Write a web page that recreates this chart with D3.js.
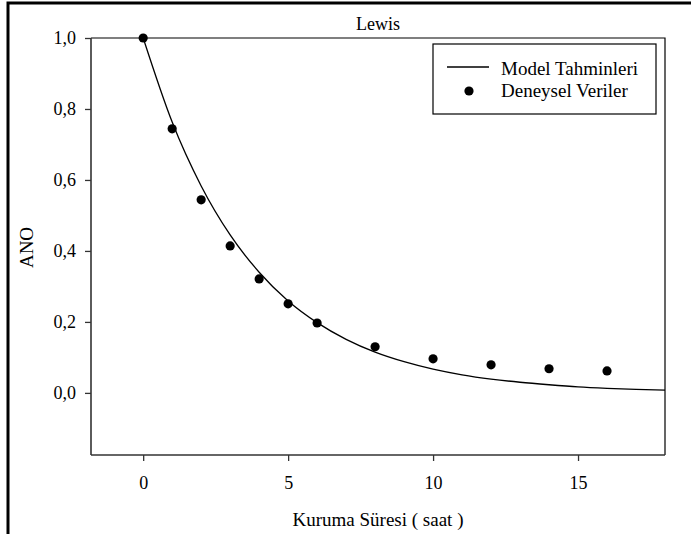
<!DOCTYPE html>
<html>
<head>
<meta charset="utf-8">
<script src="https://cdn.jsdelivr.net/npm/d3@7"></script>
<style>
  body { margin: 0; background: #fff; }
  text { font-family: "Liberation Serif", "Times New Roman", serif; fill: #000; }
</style>
</head>
<body>
<div id="chart"></div>
<script>
// measured points (Deneysel Veriler)
let timeObs = [0, 1, 2, 3, 4, 5, 6, 8, 10, 12, 14, 16];
let anoObs = [1.0, 0.744, 0.544, 0.414, 0.321, 0.251, 0.197, 0.130, 0.096, 0.079, 0.068, 0.062];

// model curve (Model Tahminleri)
let timeModel = [0, 1, 2, 3, 4, 5, 6, 7, 8, 9, 10, 11, 12, 13, 14, 15, 16, 17, 18];
let anoModel = [1.0, 0.763, 0.583, 0.445, 0.340, 0.259, 0.198, 0.151, 0.115, 0.088, 0.067, 0.051, 0.039, 0.030, 0.023, 0.017, 0.013, 0.010, 0.008];

let xTicks = [0, 5, 10, 15];
let yTicks = [0, 0.2, 0.4, 0.6, 0.8, 1.0];

let W = 691, H = 534;
let pLeft = 91, pRight = 665, pTop = 38, pBottom = 455;

let svg = d3.select("#chart")
    .append("svg")
    .attr("width", W)
    .attr("height", H);

// outer frame (cut off at right/bottom)
svg.append("rect")
    .attr("x", 8)
    .attr("y", 3)
    .attr("width", 720)
    .attr("height", 560)
    .attr("fill", "none")
    .style("stroke", "black")
    .style("stroke-width", 3);

let x = d3.scaleLinear().domain([-1.8, 18]).range([pLeft, pRight]);
let y = d3.scaleLinear().domain([-0.175, 1.0]).range([pBottom, pTop]);

let comma = d => d3.format(".1f")(d).replace(".", ",");

// top and right border of plot
svg.append("path")
    .attr("d", `M${pLeft},${pTop}H${pRight}V${pBottom}`)
    .attr("fill", "none")
    .style("stroke", "black")
    .style("stroke-width", 1.2);

let yAxis = svg.append("g")
    .attr("transform", `translate(${pLeft},0)`)
    .call(d3.axisLeft(y).tickValues(yTicks).tickFormat(comma).tickSize(6).tickPadding(9));

let xAxis = svg.append("g")
    .attr("transform", `translate(0,${pBottom})`)
    .call(d3.axisBottom(x).tickValues(xTicks).tickSize(6).tickPadding(15));

[yAxis, xAxis].forEach(g => {
    g.select(".domain").style("stroke", "#333").style("stroke-width", 1.6);
    g.selectAll(".tick line").style("stroke", "#333").style("stroke-width", 1.3);
    g.selectAll("text")
        .style("font-family", "Liberation Serif, serif")
        .style("font-size", "18px")
        .attr("fill", "#000");
});
yAxis.select(".domain").attr("d", `M0,${pTop}V${pBottom}`);
xAxis.select(".domain").attr("d", `M${pLeft},0H${pRight}`);

// model line
let line = d3.line()
    .x((d, i) => x(timeModel[i]))
    .y(d => y(d))
    .curve(d3.curveMonotoneX);

svg.append("path")
    .datum(anoModel)
    .attr("d", line)
    .attr("fill", "none")
    .style("stroke", "black")
    .style("stroke-width", 1.3);

// data points
svg.selectAll("circle.obs")
    .data(anoObs)
    .enter()
    .append("circle")
    .attr("class", "obs")
    .attr("cx", (d, i) => x(timeObs[i]))
    .attr("cy", d => y(d))
    .attr("r", 4.6)
    .attr("fill", "black");

// title and axis labels
svg.append("text")
    .attr("x", (pLeft + pRight) / 2)
    .attr("y", 30)
    .attr("text-anchor", "middle")
    .style("font-size", "18px")
    .text("Lewis");

svg.append("text")
    .attr("x", (pLeft + pRight) / 2)
    .attr("y", 526)
    .attr("text-anchor", "middle")
    .style("font-size", "19px")
    .text("Kuruma Süresi ( saat )");

svg.append("text")
    .attr("transform", `translate(33,${(pTop + pBottom) / 2 + 1}) rotate(-90)`)
    .attr("text-anchor", "middle")
    .style("font-size", "19px")
    .text("ANO");

// legend
let legend = svg.append("g");
legend.append("rect")
    .attr("x", 433)
    .attr("y", 44)
    .attr("width", 223)
    .attr("height", 70)
    .attr("fill", "white")
    .style("stroke", "black")
    .style("stroke-width", 1.2);

legend.append("line")
    .attr("x1", 447).attr("x2", 489)
    .attr("y1", 67).attr("y2", 67)
    .style("stroke", "black")
    .style("stroke-width", 1.3);

legend.append("circle")
    .attr("cx", 469)
    .attr("cy", 91)
    .attr("r", 4.6)
    .attr("fill", "black");

legend.append("text")
    .attr("x", 501)
    .attr("y", 75)
    .style("font-size", "19px")
    .text("Model Tahminleri");

legend.append("text")
    .attr("x", 501)
    .attr("y", 97)
    .style("font-size", "19px")
    .text("Deneysel Veriler");
</script>
</body>
</html>
